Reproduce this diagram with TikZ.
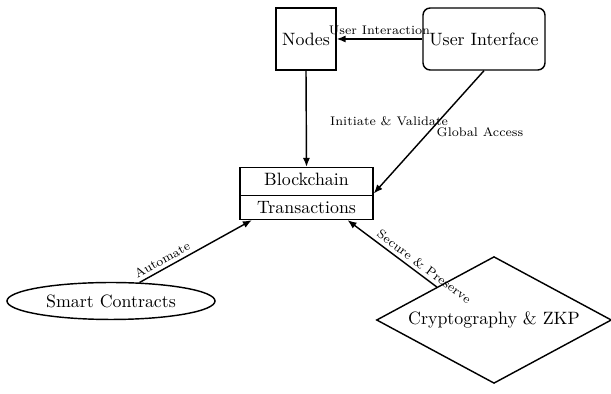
\documentclass[tikz,border=0pt]{standalone}
\usetikzlibrary{shapes.geometric,shapes.multipart,arrows.meta}
\begin{document}
\begin{tikzpicture}[x=0.56pt,y=-0.56pt,
  box/.style={draw,thick,minimum width=33.6pt,minimum height=34.7pt,inner sep=2pt},
  rbox/.style={draw,thick,rounded corners=4pt,minimum width=68.3pt,minimum height=34.7pt,inner sep=2pt},
  splitbox/.style={draw,thick,rectangle split,rectangle split parts=2,minimum width=74.5pt,text height=7pt,text depth=2pt,inner ysep=2.9pt},
  ell/.style={draw,thick,ellipse,minimum width=116.5pt,minimum height=20.7pt,inner sep=0pt},
  dia/.style={draw,thick,diamond,aspect=1.85,minimum width=131.6pt,minimum height=71pt,inner sep=0pt},
  conn/.style={thick,-{Latex[length=5pt,width=4pt]}},
  lbl/.style={font=\scriptsize,inner sep=2pt}]
\useasboundingbox (0,0) rectangle (611,394);
\node[box] (nodes) at (306,39) {Nodes};
\node[rbox] (ui) at (484,39) {User Interface};
\node[splitbox] (bc) at (306.5,193.5) {Blockchain\nodepart{two}Transactions};
\node[ell] (sc) at (111,301) {Smart Contracts};
\node[dia] (cz) at (494,320) {Cryptography \& ZKP};
\draw[conn] (ui.west) -- node[lbl,above] {User Interaction} (nodes.east);
\draw[conn] (nodes.south) -- node[lbl,pos=0.52,anchor=west,xshift=11pt] {Initiate \& Validate} (bc.north);
\draw[conn] (ui.south) -- node[lbl,pos=0.5,anchor=west,xshift=2pt] {Global Access} (bc.east);
\draw[conn] (sc.33) -- node[lbl,pos=0.24,sloped,above] {Automate} (bc.206);
\draw[conn] (cz.150) -- node[lbl,pos=0.2,sloped,above] {Secure \& Preserve} (bc.327);
\end{tikzpicture}
\end{document}
